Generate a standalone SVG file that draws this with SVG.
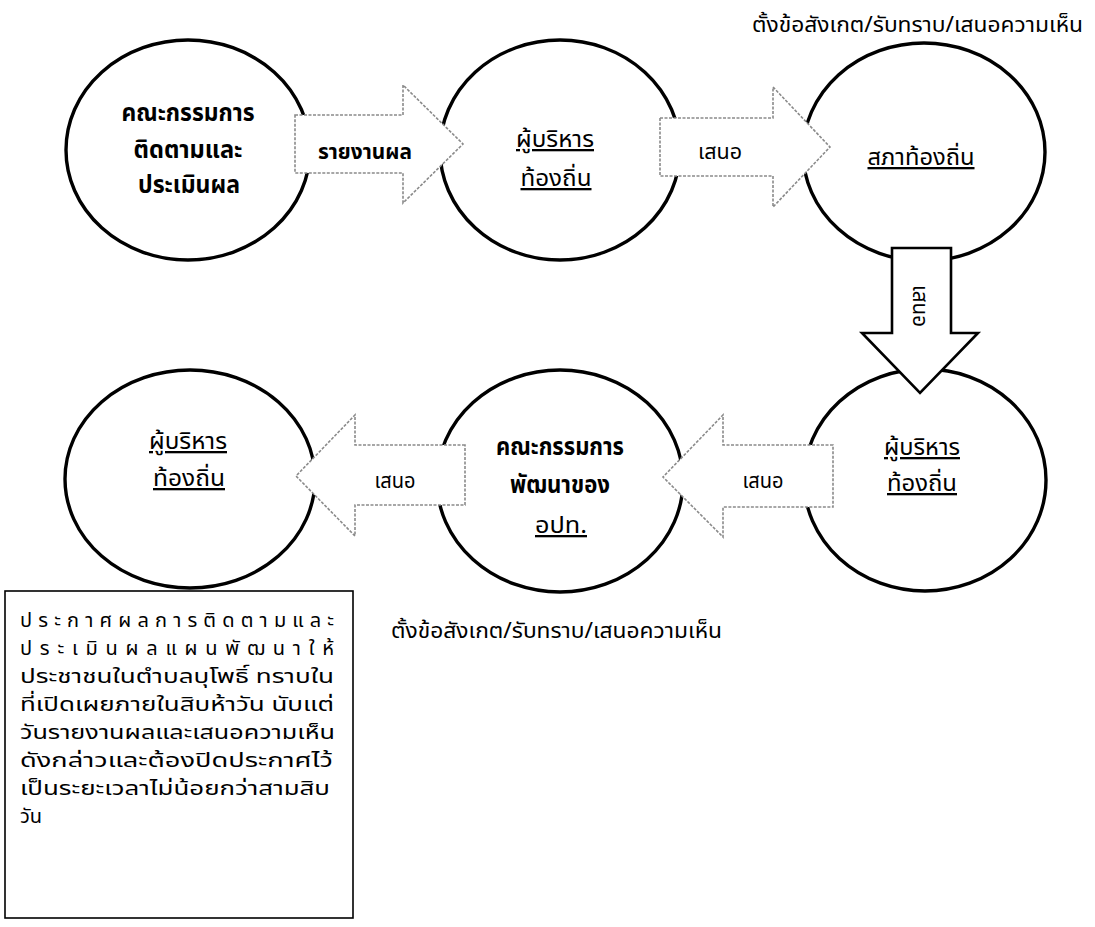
<svg xmlns="http://www.w3.org/2000/svg" width="1095" height="927" viewBox="0 0 1095 927">
<style>
text{font-family:"Tahoma","Noto Sans Thai","Noto Sans Thai UI","Loma","Garuda","DejaVu Sans","Noto Sans",sans-serif;fill:#000}
.node{fill:#fff;stroke:#000;stroke-width:3.4}
.ga{fill:#fff;stroke:#8a8a8a;stroke-width:1.6;stroke-dasharray:3 1.5}
.da{fill:#fff;stroke:#000;stroke-width:2.6;stroke-linejoin:miter}
.b{font-size:24px;font-weight:bold;text-anchor:middle}
.u{font-size:23px;text-anchor:middle;text-decoration:underline}
.lbl{font-size:22px;text-anchor:middle}
.note{font-size:20px}
.box{fill:#fff;stroke:#000;stroke-width:1.6}
</style>
<rect width="1095" height="927" fill="#fff"/>

<g id="n1"><ellipse class="node" cx="188" cy="150" rx="122" ry="110"/>
<text class="b" x="188" y="121" textLength="133" lengthAdjust="spacingAndGlyphs">คณะกรรมการ</text>
<text class="b" x="188" y="158" textLength="109" lengthAdjust="spacingAndGlyphs">ติดตามและ</text>
<text class="b" x="189" y="193" textLength="102" lengthAdjust="spacingAndGlyphs">ประเมินผล</text></g>

<g id="n2"><ellipse class="node" cx="560" cy="150" rx="120" ry="110"/>
<text class="u" x="555" y="147" textLength="78" lengthAdjust="spacingAndGlyphs">ผู้บริหาร</text>
<text class="u" x="556" y="186" textLength="71" lengthAdjust="spacingAndGlyphs">ท้องถิ่น</text></g>

<g id="n3"><ellipse class="node" cx="924" cy="152" rx="121" ry="109"/>
<text class="u" x="921" y="165" textLength="107" lengthAdjust="spacingAndGlyphs">สภาท้องถิ่น</text></g>

<g id="n4"><ellipse class="node" cx="190" cy="479" rx="125" ry="109"/>
<text class="u" x="188" y="449" textLength="78" lengthAdjust="spacingAndGlyphs">ผู้บริหาร</text>
<text class="u" x="189" y="486" textLength="72" lengthAdjust="spacingAndGlyphs">ท้องถิ่น</text></g>

<g id="n5"><ellipse class="node" cx="560" cy="481" rx="123" ry="111"/>
<text class="b" x="560" y="455" textLength="128" lengthAdjust="spacingAndGlyphs">คณะกรรมการ</text>
<text class="b" x="560" y="493" textLength="100" lengthAdjust="spacingAndGlyphs">พัฒนาของ</text>
<text class="u" x="561" y="533" textLength="52" lengthAdjust="spacingAndGlyphs">อปท.</text></g>

<g id="n6"><ellipse class="node" cx="925" cy="480" rx="121" ry="111"/>
<text class="u" x="922" y="455" textLength="76" lengthAdjust="spacingAndGlyphs">ผู้บริหาร</text>
<text class="u" x="922" y="491" textLength="70" lengthAdjust="spacingAndGlyphs">ท้องถิ่น</text></g>

<g id="connectors">
<g id="e1"><polygon class="ga" points="295,115 403,115 403,85 463,144 403,203 403,173 295,173"/>
<text class="lbl" x="365" y="159" font-weight="bold" textLength="94" lengthAdjust="spacingAndGlyphs">รายงานผล</text></g>
<g id="e2"><polygon class="ga" points="660,118 773,118 773,87 830,147 773,207 773,176 660,176"/>
<text class="lbl" x="720" y="159" textLength="44" lengthAdjust="spacingAndGlyphs">เสนอ</text></g>
<g id="e3"><polygon class="da" points="892,248 951,248 951,333 978,333 920,393 862,333 892,333"/>
<text class="lbl" transform="translate(913,306) rotate(90)" font-size="19" textLength="42" lengthAdjust="spacingAndGlyphs">เสนอ</text></g>
<g id="e4"><polygon class="ga" points="833,445 723,445 723,415 663,477 723,537 723,507 833,507"/>
<text class="lbl" x="763" y="488" textLength="41" lengthAdjust="spacingAndGlyphs">เสนอ</text></g>
<g id="e5"><polygon class="ga" points="465,445 355,445 355,415 296,476 355,536 355,505 465,505"/>
<text class="lbl" x="395" y="488" textLength="41" lengthAdjust="spacingAndGlyphs">เสนอ</text></g>
</g>

<g id="note-top"><text x="752" y="32" font-size="21" textLength="331" lengthAdjust="spacingAndGlyphs">ตั้งข้อสังเกต/รับทราบ/เสนอความเห็น</text></g>
<g id="note-bottom"><text x="391" y="638" font-size="21" textLength="331" lengthAdjust="spacingAndGlyphs">ตั้งข้อสังเกต/รับทราบ/เสนอความเห็น</text></g>

<g id="announce">
<rect class="box" x="5" y="591" width="348" height="327"/>
<text class="note" x="20" y="627" textLength="314" lengthAdjust="spacing">ประกาศผลการติดตามและ</text>
<text class="note" x="20" y="655" textLength="314" lengthAdjust="spacing">ประเมินผลแผนพัฒนาให้</text>
<text class="note" x="20" y="683" textLength="314" lengthAdjust="spacingAndGlyphs">ประชาชนในตำบลบุโพธิ์ ทราบใน</text>
<text class="note" x="20" y="711" textLength="314" lengthAdjust="spacingAndGlyphs">ที่เปิดเผยภายในสิบห้าวัน นับแต่</text>
<text class="note" x="20" y="739" textLength="315" lengthAdjust="spacingAndGlyphs">วันรายงานผลและเสนอความเห็น</text>
<text class="note" x="20" y="767" textLength="313" lengthAdjust="spacingAndGlyphs">ดังกล่าวและต้องปิดประกาศไว้</text>
<text class="note" x="20" y="795" textLength="310" lengthAdjust="spacingAndGlyphs">เป็นระยะเวลาไม่น้อยกว่าสามสิบ</text>
<text class="note" x="20" y="823">วัน</text>
</g>
</svg>
